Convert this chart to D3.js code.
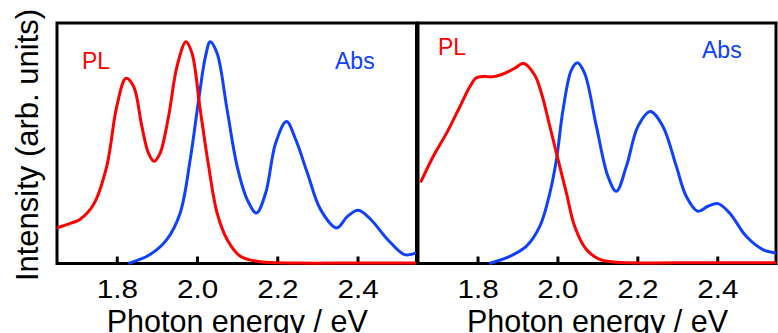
<!DOCTYPE html>
<html>
<head>
<meta charset="utf-8">
<script src="https://cdn.jsdelivr.net/npm/d3@7"></script>
<style>
  body { margin: 0; background: #fff; }
  svg { display: block; }
</style>
</head>
<body>
<div id="chart"></div>
<script>
// energy axis ticks
const ticks = [1.8, 2.0, 2.2, 2.4];

// left panel: PL (red) and Abs (blue), [energy eV, intensity]
const plLeft = [
  [1.651, 0.148], [1.6875, 0.169], [1.708, 0.183], [1.742, 0.245], [1.775, 0.404],
  [1.80, 0.653], [1.823, 0.770], [1.842, 0.736], [1.8625, 0.570], [1.879, 0.459],
  [1.893, 0.425], [1.908, 0.459], [1.929, 0.611], [1.95, 0.819], [1.9725, 0.922],
  [1.9875, 0.874], [2.008, 0.639], [2.029, 0.404], [2.05, 0.210], [2.075, 0.100],
  [2.108, 0.030], [2.158, 0.007], [2.25, 0.002], [2.40, 0.002], [2.547, 0.002]
];
const absLeft = [
  [1.829, 0.0], [1.883, 0.037], [1.925, 0.10], [1.958, 0.21], [1.983, 0.432],
  [2.004, 0.680], [2.021, 0.860], [2.033, 0.922], [2.05, 0.874], [2.075, 0.639],
  [2.10, 0.404], [2.125, 0.266], [2.148, 0.210], [2.171, 0.293], [2.196, 0.501],
  [2.223, 0.590], [2.246, 0.515], [2.275, 0.376], [2.308, 0.224], [2.348, 0.148],
  [2.375, 0.196], [2.402, 0.221], [2.433, 0.183], [2.475, 0.100], [2.517, 0.037],
  [2.547, 0.044]
];

// right panel
const plRight = [
  [1.6575, 0.337], [1.689, 0.445], [1.7225, 0.542], [1.756, 0.653], [1.781, 0.736],
  [1.797, 0.772], [1.815, 0.778], [1.835, 0.776], [1.864, 0.788], [1.893, 0.812],
  [1.916, 0.832], [1.943, 0.784], [1.96, 0.708], [1.981, 0.570], [2.0015, 0.432],
  [2.0225, 0.293], [2.043, 0.155], [2.0725, 0.058], [2.106, 0.017], [2.1475, 0.005],
  [2.30, 0.003], [2.547, 0.003]
];
const absRight = [
  [1.829, 0.0], [1.881, 0.03], [1.9225, 0.072], [1.956, 0.155], [1.981, 0.293],
  [1.9975, 0.432], [2.014, 0.639], [2.035, 0.805], [2.05, 0.835], [2.068, 0.791],
  [2.0975, 0.570], [2.1265, 0.362], [2.1475, 0.300], [2.1725, 0.404], [2.2015, 0.570],
  [2.2325, 0.632], [2.264, 0.570], [2.2975, 0.404], [2.3225, 0.279], [2.3515, 0.217],
  [2.3765, 0.238], [2.4015, 0.249], [2.4308, 0.210], [2.4725, 0.113], [2.514, 0.058],
  [2.547, 0.044]
];

const red = '#ff0000';
const blue = '#1040ff';
const font = "'Liberation Sans', Arial, sans-serif";

const width = 778, height = 333;
const plotTop = 23, plotBottom = 263.5;

const svg = d3.select('#chart')
  .append('svg')
  .attr('width', width)
  .attr('height', height)
  .style('font-family', font);

const y = d3.scaleLinear().domain([0, 1]).range([plotBottom, plotTop]);

const panels = [
  { left: 57, right: 416.5, pl: plLeft, abs: absLeft, plLab: [82, 68.5], absLab: [335, 69], id: 'a' },
  { left: 418, right: 776, pl: plRight, abs: absRight, plLab: [438, 55], absLab: [702, 58], id: 'b' }
];

panels.forEach(p => {
  const x = d3.scaleLinear().domain([1.651, 2.547]).range([p.left, p.right]);

  const g = svg.append('g');

  g.append('clipPath')
    .attr('id', 'clip-' + p.id)
    .append('rect')
    .attr('x', p.left)
    .attr('y', plotTop)
    .attr('width', p.right - p.left)
    .attr('height', plotBottom - plotTop + 2);

  const line = d3.line()
    .x(d => x(d[0]))
    .y(d => y(d[1]))
    .curve(d3.curveCatmullRom.alpha(0.5));

  // frame
  g.append('rect')
    .attr('x', p.left)
    .attr('y', plotTop)
    .attr('width', p.right - p.left)
    .attr('height', plotBottom - plotTop)
    .attr('fill', 'none')
    .attr('stroke', '#000')
    .attr('stroke-width', 3);

  // inward ticks + labels
  const axis = d3.axisBottom(x)
    .tickValues(ticks)
    .tickFormat(d3.format('.1f'))
    .tickSizeInner(-7)
    .tickSizeOuter(0);

  const ax = g.append('g')
    .attr('transform', `translate(0,${plotBottom})`)
    .call(axis);
  ax.select('.domain').remove();
  ax.selectAll('.tick line').attr('stroke', '#000').attr('stroke-width', 3);
  ax.selectAll('.tick text')
    .attr('fill', '#000')
    .attr('y', 0)
    .attr('dy', 0)
    .attr('transform', 'translate(0,34.8) scale(1.14,1)')
    .style('font-family', font)
    .style('font-size', '26px');

  const curves = g.append('g').attr('clip-path', `url(#clip-${p.id})`);

  curves.append('path')
    .datum(p.abs)
    .attr('d', line)
    .attr('fill', 'none')
    .attr('stroke', blue)
    .attr('stroke-width', 3);

  curves.append('path')
    .datum(p.pl)
    .attr('d', line)
    .attr('fill', 'none')
    .attr('stroke', red)
    .attr('stroke-width', 3);

  g.append('text')
    .attr('x', p.plLab[0])
    .attr('y', p.plLab[1])
    .attr('fill', red)
    .style('font-size', '23px')
    .text('PL');

  g.append('text')
    .attr('x', p.absLab[0])
    .attr('y', p.absLab[1])
    .attr('fill', blue)
    .style('font-size', '23px')
    .text('Abs');

  g.append('text')
    .attr('x', (p.left + p.right) / 2 - 130)
    .attr('y', 331.5)
    .attr('textLength', 261)
    .attr('lengthAdjust', 'spacingAndGlyphs')
    .attr('fill', '#000')
    .style('font-size', '32px')
    .text('Photon energy / eV');
});

// y axis title
svg.append('text')
  .attr('transform', 'translate(38,145) rotate(-90)')
  .attr('text-anchor', 'middle')
  .attr('fill', '#000')
  .style('font-size', '31px')
  .text('Intensity (arb. units)');
</script>
</body>
</html>
